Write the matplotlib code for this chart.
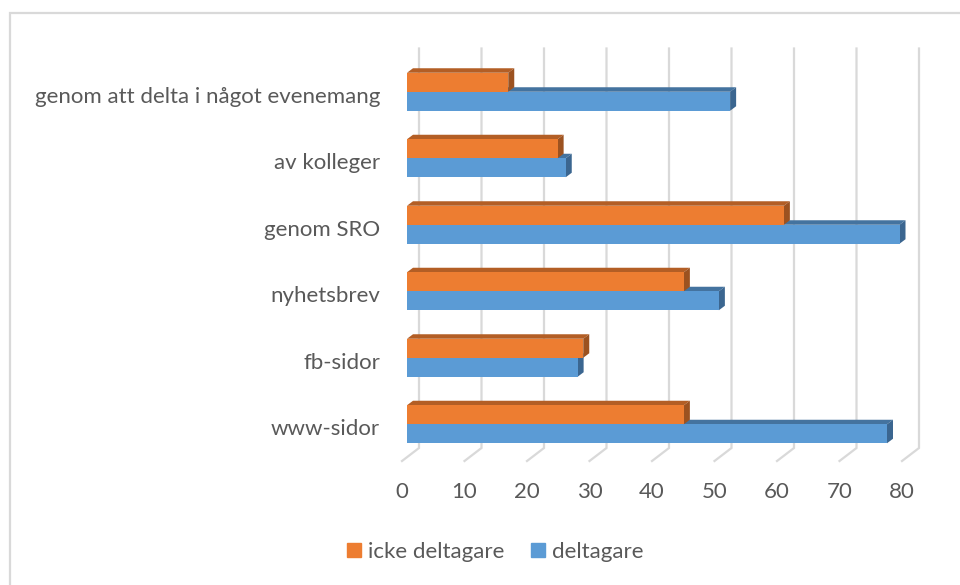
import matplotlib
matplotlib.use("Agg")
import matplotlib.pyplot as plt
from matplotlib.patches import Polygon
from matplotlib.lines import Line2D

# categories bottom to top, same order as the horizontal bars
categories = ["www-sidor", "fb-sidor", "nyhetsbrev", "genom SRO", "av kolleger",
              "genom att delta i något evenemang"]
deltagare = [76.8, 27.3, 49.9, 78.8, 25.4, 51.7]
icke_deltagare = [44.3, 28.2, 44.3, 60.3, 24.1, 16.2]
x_ticks = [0, 10, 20, 30, 40, 50, 60, 70, 80]

W, H = 960, 585
TEXT = "#595959"
GRID = "#d9d9d9"

plt.rcParams["font.family"] = ["Lato", "DejaVu Sans"]

fig = plt.figure(figsize=(W / 100, H / 100), dpi=100)

# front plane of the bars: x 0..80 -> 407..907 px, y 0..5 -> 424..92 px
left, right = 407, 907
top, bottom = 58.5, 457.5
ax = fig.add_axes([left / W, 1 - bottom / H, (right - left) / W, (bottom - top) / H])
ax.set_xlim(0, 80)
ax.set_ylim(-0.5, 5.5)
ax.axis("off")

px_x = 80 / (right - left)
px_y = 6 / (bottom - top)
depth_x = 6 * px_x
depth_y = 4.5 * px_y
bar_h = 19 * px_y

# outer frame, only top and left show in the crop
fig.add_artist(Line2D([9.5 / W, 9.5 / W, 1], [0, 1 - 12.5 / H, 1 - 12.5 / H], color=GRID, lw=1.6,
                      solid_joinstyle="miter"))

# back wall gridlines and floor ticks
for t in x_ticks:
    xb = t + 12 * px_x
    xf = t - 5 * px_x
    yb = -0.5 + 9.5 * px_y
    yf = -0.5 - 3.5 * px_y
    ax.plot([xf, xb, xb], [yf, yb, 5.5 + 10 * px_y], color=GRID, lw=1.6, clip_on=False, zorder=1,
            solid_joinstyle="miter")
    ax.text(t - 5 * px_x, -0.5 - 35 * px_y, str(t), ha="center", va="center",
            fontsize=16, color=TEXT)


def bar3d(y0, value, front, top_col, side_col, z):
    ax.add_patch(Polygon([(0, y0 + bar_h), (depth_x, y0 + bar_h + depth_y),
                          (value + depth_x, y0 + bar_h + depth_y), (value, y0 + bar_h)],
                         closed=True, facecolor=top_col, edgecolor="none", zorder=z, clip_on=False))
    ax.add_patch(Polygon([(value, y0), (value + depth_x, y0 + depth_y),
                          (value + depth_x, y0 + bar_h + depth_y), (value, y0 + bar_h)],
                         closed=True, facecolor=side_col, edgecolor="none", zorder=z, clip_on=False))
    ax.barh(y0, value, height=bar_h, align="edge", color=front, edgecolor="none", zorder=z + 0.1)


for i, cat in enumerate(categories):
    bar3d(i - bar_h, deltagare[i], "#5b9bd5", "#44739f", "#3b6690", 2 + i * 0.01)
    bar3d(i, icke_deltagare[i], "#ed7d31", "#b35e25", "#9c5220", 3 + i * 0.01)
    ax.text(-27 * px_x, i - 5 * px_y, cat, ha="right", va="center", fontsize=16, color=TEXT)

handles = [Line2D([], [], marker="s", ls="none", ms=10, color="#ed7d31", label="icke deltagare"),
           Line2D([], [], marker="s", ls="none", ms=10, color="#5b9bd5", label="deltagare")]
fig.legend(handles=handles, loc="center", bbox_to_anchor=(495 / W, 1 - 552 / H), ncol=2,
           frameon=False, fontsize=16, labelcolor=TEXT, handlelength=0.65, handletextpad=0.3,
           columnspacing=1.2)

fig.savefig("out.png", dpi=100)
